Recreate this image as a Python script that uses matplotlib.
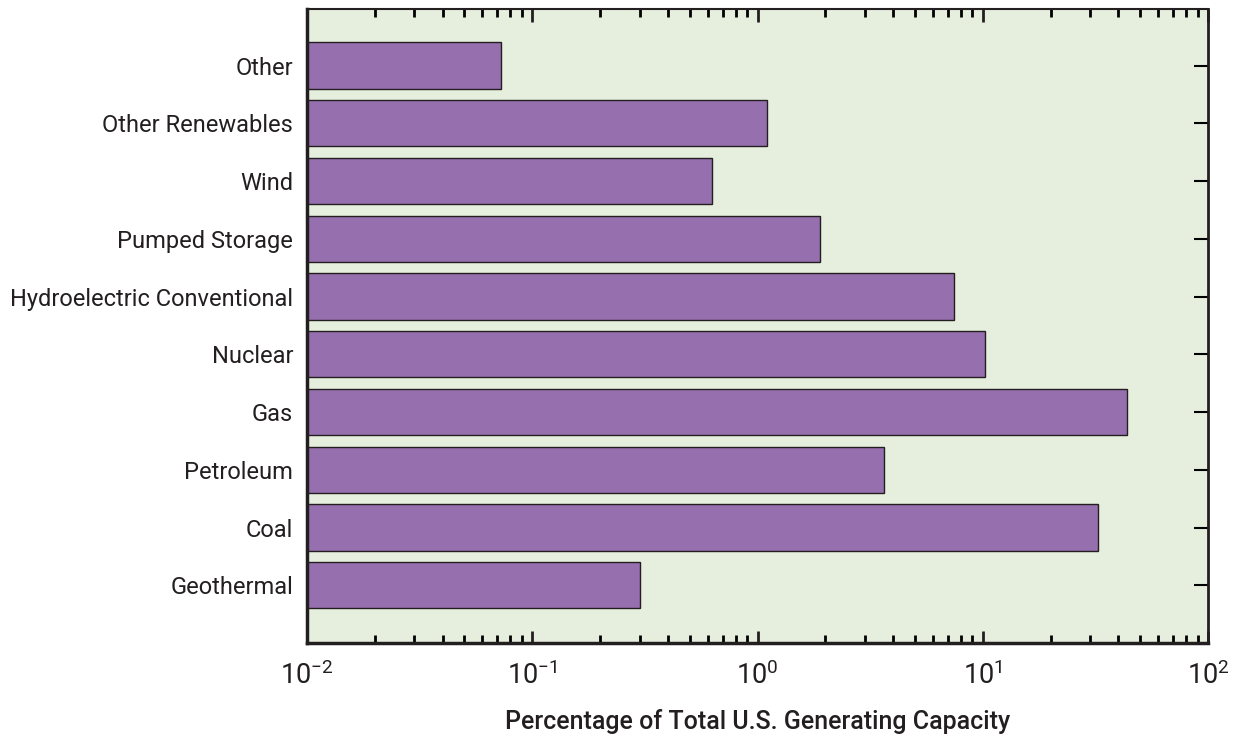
import matplotlib
matplotlib.use("Agg")
import matplotlib.pyplot as plt
import numpy as np
from matplotlib.ticker import LogLocator, NullFormatter

categories = ["Geothermal", "Coal", "Petroleum", "Gas", "Nuclear",
              "Hydroelectric Conventional", "Pumped Storage", "Wind",
              "Other Renewables", "Other"]
percent = [0.30, 32.4, 3.63, 43.6, 10.2, 7.43, 1.89, 0.625, 1.10, 0.073]

plt.rcParams['font.family'] = ['Roboto', 'DejaVu Sans']
plt.rcParams['mathtext.fontset'] = 'custom'
plt.rcParams['mathtext.rm'] = 'Roboto'
plt.rcParams['mathtext.it'] = 'Roboto'

fig = plt.figure(figsize=(12.33, 7.42), dpi=100)
ax = fig.add_axes([307 / 1233, 1 - 643 / 742, 901 / 1233, 634 / 742])
ax.set_facecolor("#E6EFDE")

x0 = 1e-2
y = np.arange(len(categories))
ax.barh(y, np.array(percent) - x0, left=x0, height=0.8, color="#966FAF",
        edgecolor="#231F20", linewidth=1.0, zorder=2)

ax.set_xscale("log")
ax.set_xlim(1e-2, 1e2)
ax.set_ylim(-1.0, 9.98)
ax.set_yticks(y)
ax.set_yticklabels(categories, fontsize=17, color="#231F20")

ax.xaxis.set_major_locator(LogLocator(base=10, numticks=10))
ax.xaxis.set_minor_locator(LogLocator(base=10, subs=np.arange(2, 10), numticks=20))
ax.xaxis.set_minor_formatter(NullFormatter())

ax.tick_params(axis="x", which="major", direction="in", length=9, width=2,
               top=True, bottom=True, labelsize=19.5, pad=13, colors="#231F20")
ax.tick_params(axis="x", which="minor", direction="in", length=6, width=2,
               top=True, bottom=True)
ax.tick_params(axis="y", which="major", direction="in", length=10, width=1.5,
               left=False, right=True, pad=10)

for side, lw in [("left", 2.5), ("bottom", 2.5), ("top", 1.5), ("right", 2.0)]:
    ax.spines[side].set_linewidth(lw)
    ax.spines[side].set_color("#231F20")

ax.set_xlabel("Percentage of Total U.S. Generating Capacity", fontsize=18,
              fontweight="medium", labelpad=14, color="#231F20")

fig.savefig("out.png", dpi=100)
